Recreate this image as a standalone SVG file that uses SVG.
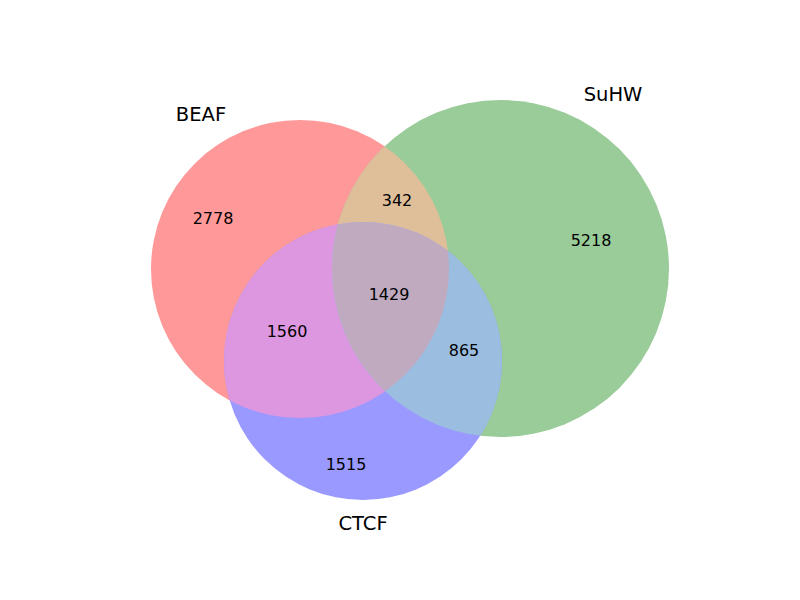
<svg xmlns="http://www.w3.org/2000/svg" width="800" height="600" viewBox="0 0 800 600">
  <style>
    .lbl { font-family: "DejaVu Sans", "Liberation Sans", sans-serif; font-size: 19.5px; fill: #000; text-anchor: middle; dominant-baseline: central; }
    .num { font-family: "DejaVu Sans", "Liberation Sans", sans-serif; font-size: 16px; fill: #000; text-anchor: middle; dominant-baseline: central; }
  </style>
  <defs>
    <clipPath id="clipA"><circle cx="300" cy="269" r="149"/></clipPath>
    <clipPath id="clipB"><circle cx="500.5" cy="268.5" r="168.5"/></clipPath>
    <clipPath id="clipC"><circle cx="363" cy="361" r="139"/></clipPath>
  </defs>
  <rect x="0" y="0" width="800" height="600" fill="#ffffff"/>
  <g id="regions">
    <g id="BEAF"><circle cx="300" cy="269" r="149" fill="#ff9999"/></g>
    <g id="SuHW"><circle cx="500.5" cy="268.5" r="168.5" fill="#99cc99"/></g>
    <g id="CTCF"><circle cx="363" cy="361" r="139" fill="#9999ff"/></g>
    <g id="BEAF_SuHW" clip-path="url(#clipB)"><circle cx="300" cy="269" r="149" fill="#dfbe9a"/></g>
    <g id="BEAF_CTCF" clip-path="url(#clipC)"><circle cx="300" cy="269" r="149" fill="#dd96e0"/></g>
    <g id="SuHW_CTCF" clip-path="url(#clipC)"><circle cx="500.5" cy="268.5" r="168.5" fill="#9abde0"/></g>
    <g id="ALL" clip-path="url(#clipC)"><g clip-path="url(#clipB)"><circle cx="300" cy="269" r="149" fill="#bfaac0"/></g></g>
  </g>
  <g id="labels">
    <text class="lbl" x="201" y="114">BEAF</text>
    <text class="lbl" x="613" y="94">SuHW</text>
    <text class="lbl" x="363" y="523">CTCF</text>
  </g>
  <g id="counts">
    <text class="num" x="213" y="218">2778</text>
    <text class="num" x="397" y="200">342</text>
    <text class="num" x="591" y="240">5218</text>
    <text class="num" x="389" y="294">1429</text>
    <text class="num" x="287" y="331">1560</text>
    <text class="num" x="464" y="350">865</text>
    <text class="num" x="346" y="464">1515</text>
  </g>
  <g id="connectors"/>
</svg>
